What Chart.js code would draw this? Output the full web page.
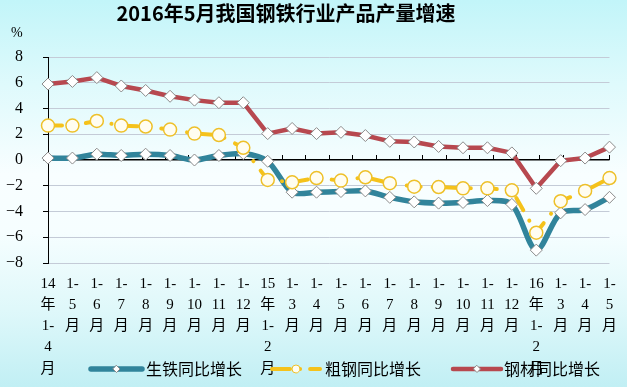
<!DOCTYPE html>
<html><head><meta charset="utf-8">
<script src="https://cdn.jsdelivr.net/npm/chart.js@4.4.1/dist/chart.umd.min.js"></script>
<style>
html,body{margin:0;padding:0;background:#fff;}
#wrap{width:627px;height:387px;position:relative;background:linear-gradient(to bottom,#c2f5f9 0%,#dffafc 22%,#f8feff 45%,#f6feff 60%,#dff8fa 80%,#c1eff4 100%);}
canvas{display:block;}
</style></head><body>
<div id="wrap"><canvas id="c" width="627" height="387"></canvas></div>
<script>
// ---- data ----
const categories = ['14年1-4月','1-5月','1-6月','1-7月','1-8月','1-9月','1-10月','1-11月','1-12月',
  '15年1-2月','1-3月','1-4月','1-5月','1-6月','1-7月','1-8月','1-9月','1-10月','1-11月','1-12月',
  '16年1-2月','1-3月','1-4月','1-5月'];
const pigIron = [0.15,0.15,0.45,0.35,0.45,0.35,0.0,0.35,0.5,-0.1,-2.5,-2.5,-2.45,-2.4,-2.9,-3.25,-3.35,-3.3,-3.15,-3.45,-7.0,-4.1,-3.85,-2.9];
const crudeSteel = [2.67,2.67,3.03,2.67,2.6,2.36,2.05,1.94,0.95,-1.55,-1.73,-1.4,-1.6,-1.34,-1.8,-2.07,-2.1,-2.2,-2.2,-2.35,-5.65,-3.2,-2.4,-1.4];
const steelProducts = [5.9,6.1,6.4,5.75,5.4,4.95,4.65,4.45,4.45,2.05,2.45,2.05,2.15,1.9,1.45,1.4,1.05,0.95,0.95,0.55,-2.2,-0.05,0.15,1.0];
const seriesNames = ['生铁同比增长','粗钢同比增长','钢材同比增长'];
const yMin = -8, yMax = 8, yStep = 2;
const titleText = '2016年5月我国钢铁行业产品产量增速';
const unitText = '%';

function wrapLabel(s){
  const m = s.match(/^(?:(\d+)(年))?(1-)(\d+)(月)$/);
  if(!m) return s;
  const out = [];
  if(m[1]){ out.push(m[1]); out.push(m[2]); }
  out.push(m[3], m[4], m[5]);
  return out;
}
const serif = '"Liberation Serif","Noto Sans CJK SC",serif';
const sans = '"Noto Sans CJK SC","Noto Sans",sans-serif';

const styles = [
  {color:'#31849b', width:5.5, dash:[], point:'rectRot', r:6, bg:'#ffffff', bc:'#8a8a8a', bw:1, tension:0.3},
  {color:'#f5c21b', width:4, dash:[14,12,0.1,12], point:'circle', r:6.5, bg:'#fffdf0', bc:'#eec02a', bw:1.5, tension:0},
  {color:'#b7484f', width:4.5, dash:[], point:'rectRot', r:6, bg:'#ffffff', bc:'#8a8a8a', bw:1, tension:0}
];
const seriesData = [pigIron, crudeSteel, steelProducts];
const orders = [2,1,0];

const decor = {
  id:'decor',
  beforeDatasetsDraw(chart){
    const ctx = chart.ctx, y = chart.scales.y;
    const y0 = y.getPixelForValue(0);
    const step = (chart.chartArea.right - chart.chartArea.left)/categories.length;
    ctx.save();
    ctx.strokeStyle = '#000'; ctx.lineWidth = 1;
    for(let i=1;i<=categories.length;i++){
      const px = Math.round(chart.chartArea.left + i*step)+0.5;
      ctx.beginPath(); ctx.moveTo(px, y0-5); ctx.lineTo(px, y0); ctx.stroke();
    }
    ctx.restore();
  },
  afterDraw(chart){
    const ctx = chart.ctx;
    ctx.save();
    ctx.fillStyle = '#000';
    ctx.textBaseline = 'middle';
    ctx.textAlign = 'center';
    ctx.font = 'bold 20px ' + sans;
    ctx.fillText(titleText, 286, 13);
    ctx.font = '14px ' + serif;
    ctx.textAlign = 'left';
    ctx.fillText(unitText, 11, 33);
    // legend
    const items = [{x0:91,x1:142,tx:146},{x0:272,x1:320,tx:325},{x0:453,x1:501,tx:504}];
    const ly = 369;
    items.forEach((it,i)=>{
      const s = styles[i];
      ctx.save();
      ctx.strokeStyle = s.color; ctx.lineWidth = s.width; ctx.lineCap = 'round';
      ctx.setLineDash(i===1 ? [18,10,0.1,10] : []);
      ctx.beginPath(); ctx.moveTo(it.x0, ly); ctx.lineTo(it.x1, ly); ctx.stroke();
      ctx.setLineDash([]);
      const cx = (it.x0+it.x1)/2;
      ctx.fillStyle = s.bg; ctx.strokeStyle = s.bc; ctx.lineWidth = 1;
      ctx.beginPath();
      if(s.point==='circle'){ ctx.arc(cx, ly, 4, 0, Math.PI*2); }
      else { ctx.moveTo(cx, ly-3.5); ctx.lineTo(cx+3.5, ly); ctx.lineTo(cx, ly+3.5); ctx.lineTo(cx-3.5, ly); ctx.closePath(); }
      ctx.fill(); ctx.stroke();
      ctx.restore();
      ctx.fillStyle = '#000';
      ctx.font = '16px ' + sans;
      ctx.textAlign = 'left';
      ctx.fillText(seriesNames[i], it.tx, ly);
    });
    ctx.restore();
  }
};

new Chart(document.getElementById('c'), {
  type:'line',
  data:{
    labels: categories.map(wrapLabel),
    datasets: seriesData.map((d,i)=>({
      label: seriesNames[i],
      data: d,
      order: orders[i],
      borderColor: styles[i].color,
      borderWidth: styles[i].width,
      borderDash: styles[i].dash,
      borderCapStyle: i===1 ? 'round' : 'butt',
      borderJoinStyle: 'round',
      tension: styles[i].tension,
      fill: false,
      pointStyle: styles[i].point,
      pointRadius: styles[i].r,
      pointBackgroundColor: styles[i].bg,
      pointBorderColor: styles[i].bc,
      pointBorderWidth: styles[i].bw
    }))
  },
  options:{
    responsive:false,
    animation:false,
    events:[],
    layout:{padding:{top:57,left:0,right:7,bottom:0}},
    plugins:{legend:{display:false}, tooltip:{enabled:false}, title:{display:false}},
    scales:{
      x:{
        grid:{display:false, drawTicks:false},
        border:{display:false},
        ticks:{maxRotation:0,minRotation:0,autoSkip:false,color:'#000',padding:10,
          font:{family:serif,size:15,lineHeight:1.42}},
        afterFit(s){ s.height = 124; }
      },
      y:{
        min:yMin, max:yMax,
        ticks:{stepSize:yStep,color:'#000',padding:20,font:{family:serif,size:16},
          callback:v=> v<0 ? '\u2212'+Math.abs(v) : String(v)},
        grid:{color:c=> c.tick && c.tick.value===0 ? '#000' : '#c4cbd7',
          lineWidth:c=> c.tick && c.tick.value===0 ? 1.4 : 1,
          tickLength:5, tickColor:'#000'},
        border:{color:'#000',width:1},
        afterFit(s){ s.width = 48; }
      }
    }
  },
  plugins:[decor]
});
</script>
</body></html>
